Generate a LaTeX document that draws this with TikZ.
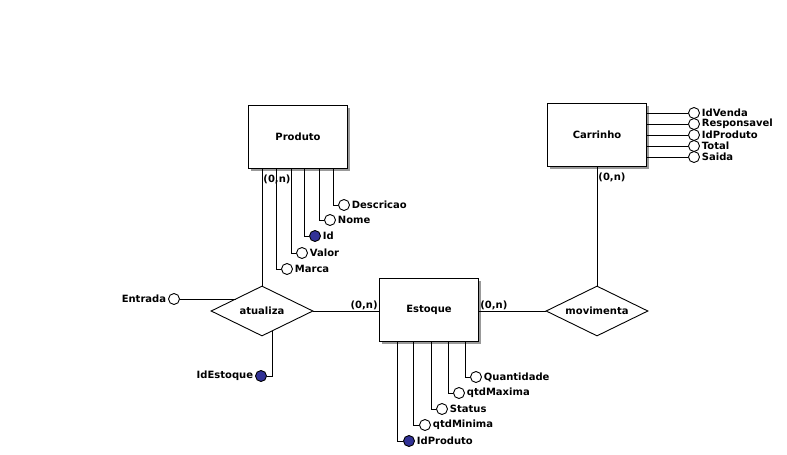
\documentclass[tikz,border=0pt]{standalone}
\usepackage{fontspec}
\setmainfont{DejaVu Sans}
\usetikzlibrary{shapes.geometric,shadows}
\definecolor{keyblue}{RGB}{50,50,150}

\tikzset{
  entity/.style={draw, fill=white, minimum width=99pt, minimum height=63pt,
    drop shadow={shadow xshift=2pt, shadow yshift=-2pt, fill=gray!80, opacity=1}},
  relation/.style={draw, diamond, fill=white, aspect=2, inner sep=0pt,
    minimum width=102pt, minimum height=50pt},
  attr/.style={draw, circle, fill=white, inner sep=0pt, minimum size=11pt},
  keyattr/.style={attr, fill=keyblue},
  card/.style={inner sep=1pt},
}

\begin{document}
\begin{tikzpicture}[x=1pt, y=-1pt, line width=0.9pt,
    font=\fontsize{10}{12}\selectfont\bfseries,
    every label/.style={inner sep=1.5pt}, label distance=0pt]
  \useasboundingbox (0,0) rectangle (787,455);

  \node[entity] (produto) at (298,137) {Produto};
  \node[entity] (carrinho) at (597,135) {Carrinho};
  \node[entity] (estoque) at (429,310) {Estoque};
  \node[relation] (atualiza) at (262,311) {atualiza};
  \node[relation] (movimenta) at (597,311) {movimenta};

  \node[attr, label=right:Descricao] (pDescricao) at (344,205) {};
  \node[attr, label=right:Nome] (pNome) at (330,220) {};
  \node[keyattr, label=right:Id] (pId) at (315,236) {};
  \node[attr, label=right:Valor] (pValor) at (302,253) {};
  \node[attr, label=right:Marca] (pMarca) at (287,269) {};

  \node[attr, label=right:IdVenda] (cIdVenda) at (694,113) {};
  \node[attr, label=right:Responsavel] (cResponsavel) at (694,124) {};
  \node[attr, label=right:IdProduto] (cIdProduto) at (694,135) {};
  \node[attr, label=right:Total] (cTotal) at (694,146) {};
  \node[attr, label=right:Saida] (cSaida) at (694,157) {};

  \node[attr, label=right:Quantidade] (eQuantidade) at (476,377) {};
  \node[attr, label=right:qtdMaxima] (eQtdMaxima) at (459,393) {};
  \node[attr, label=right:Status] (eStatus) at (442,409) {};
  \node[attr, label=right:qtdMinima] (eQtdMinima) at (425,425) {};
  \node[keyattr, label=right:IdProduto] (eIdProduto) at (409,441) {};

  \node[attr, label=left:Entrada] (aEntrada) at (174,299) {};
  \node[keyattr, label=left:IdEstoque] (aIdEstoque) at (261,376) {};

  \draw (produto.south -| atualiza.north) -- node[pos=0, below right, card, yshift=-5pt] {(0,n)} (atualiza.north);
  \draw (atualiza.east) -- node[pos=1, above left, card] {(0,n)} (atualiza.east -| estoque.west);
  \draw (estoque.east |- movimenta.west) -- node[pos=0, above right, card] {(0,n)} (movimenta.west);
  \draw (carrinho.south) -- node[pos=0, below right, card, yshift=-5pt] {(0,n)} (movimenta.north);

  \draw (pDescricao.west) -| ([xshift=85pt]produto.south west);
  \draw (pNome.west) -| ([xshift=71pt]produto.south west);
  \draw (pId.west) -| ([xshift=56pt]produto.south west);
  \draw (pValor.west) -| ([xshift=43pt]produto.south west);
  \draw (pMarca.west) -| ([xshift=28pt]produto.south west);

  \draw (cIdVenda.west) -- (cIdVenda.west -| carrinho.east);
  \draw (cResponsavel.west) -- (cResponsavel.west -| carrinho.east);
  \draw (cIdProduto.west) -- (cIdProduto.west -| carrinho.east);
  \draw (cTotal.west) -- (cTotal.west -| carrinho.east);
  \draw (cSaida.west) -- (cSaida.west -| carrinho.east);

  \draw (eQuantidade.west) -| ([xshift=86pt]estoque.south west);
  \draw (eQtdMaxima.west) -| ([xshift=69pt]estoque.south west);
  \draw (eStatus.west) -| ([xshift=52pt]estoque.south west);
  \draw (eQtdMinima.west) -| ([xshift=34pt]estoque.south west);
  \draw (eIdProduto.west) -| ([xshift=18pt]estoque.south west);

  \draw (aEntrada.east) -- (aEntrada.east -| atualiza.north west);
  \draw (aIdEstoque.east) -| ([xshift=10pt, yshift=5pt]atualiza.south);
\end{tikzpicture}
\end{document}
